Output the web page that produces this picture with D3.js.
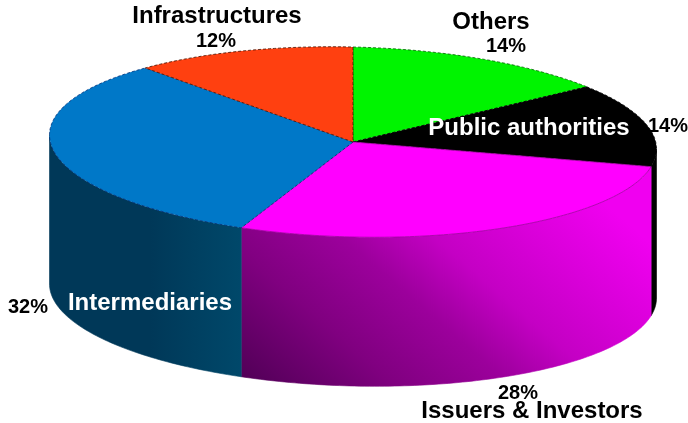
<!DOCTYPE html>
<html>
<head>
<meta charset="utf-8">
<script src="https://cdnjs.cloudflare.com/ajax/libs/d3/7.8.5/d3.min.js"></script>
<style>
html, body { margin: 0; padding: 0; background: #fff; }
svg { display: block; }
text { font-family: "Liberation Sans", Arial, sans-serif; font-weight: bold; }
</style>
</head>
<body>
<svg width="688" height="423"></svg>
<script>
// values clockwise from 12 o'clock
var categories = ['Others', 'Public authorities', 'Issuers & Investors', 'Intermediaries', 'Infrastructures'];
var shares = [14, 14, 28, 32, 12];
var shareLabels = ['14%', '14%', '28%', '32%', '12%'];
var topColors = ['#00f400', '#000000', '#ff00ff', '#0078c8', '#ff4010'];
var edgeColors = ['#006000', '#000000', '#a000a0', '#00307a', '#401000'];
var sideFills = ['#00a000', '#000000', 'url(#sideIssuers)', 'url(#sideIntermediaries)', '#a02000'];

var svg = d3.select('svg');

// shear: the reference ellipse leans a little, right side lower than left
var cx = 353, cy = 142, rx = 303.5, ry = 95, depth = 149, shear = 7;

// unit circle -> flattened ellipse
var xScale = d3.scaleLinear().domain([-1, 1]).range([cx - rx, cx + rx]);
var yScale = d3.scaleLinear().domain([-1, 1]).range([cy - ry, cy + ry]);

var line = d3.line();

function rimPoint(a, dy) {
    return [xScale(Math.sin(a)), yScale(-Math.cos(a)) + shear * Math.sin(a) + dy];
}

function arcPoints(a0, a1, dy) {
    var n = Math.max(2, Math.ceil((a1 - a0) * 60));
    return d3.range(n + 1).map(function(i) {
        return rimPoint(a0 + (a1 - a0) * i / n, dy);
    });
}

var defs = svg.append('defs');

var issuersGrad = defs.append('linearGradient')
    .attr('id', 'sideIssuers')
    .attr('gradientUnits', 'userSpaceOnUse')
    .attr('x1', 250).attr('y1', 400).attr('x2', 500).attr('y2', 112);
[[0, '#4c0052'], [0.28, '#800080'], [0.48, '#9c009c'], [0.64, '#c400c4'], [0.8, '#d800d8'], [1, '#f000f0']].forEach(function(s) {
    issuersGrad.append('stop').attr('offset', s[0]).attr('stop-color', s[1]);
});

var intermediariesGrad = defs.append('linearGradient')
    .attr('id', 'sideIntermediaries')
    .attr('gradientUnits', 'userSpaceOnUse')
    .attr('x1', 150).attr('y1', 0).attr('x2', 240).attr('y2', 0);
intermediariesGrad.append('stop').attr('offset', 0).attr('stop-color', '#003858');
intermediariesGrad.append('stop').attr('offset', 1).attr('stop-color', '#00486a');

var blur = defs.append('filter').attr('id', 'soft');
blur.append('feGaussianBlur').attr('stdDeviation', 0.45);

var pie = d3.pie().sort(null);
var slices = pie(shares);

// side walls, only the part of each slice that faces the viewer
var walls = svg.append('g').attr('class', 'walls');
slices.forEach(function(d, i) {
    var a0 = Math.max(d.startAngle, Math.PI / 2);
    var a1 = Math.min(d.endAngle, Math.PI * 3 / 2);
    if (a1 <= a0) return;
    var pts = arcPoints(a0, a1, 0).concat(arcPoints(a0, a1, depth).reverse());
    walls.append('path')
        .attr('d', line(pts) + 'Z')
        .attr('fill', sideFills[i])
        .attr('stroke', sideFills[i])
        .attr('stroke-width', 0.6);
});

// top of the cake
var tops = svg.append('g').attr('class', 'tops');
slices.forEach(function(d, i) {
    var pts = [[xScale(0), yScale(0)]].concat(arcPoints(d.startAngle, d.endAngle, 0));
    tops.append('path')
        .attr('d', line(pts) + 'Z')
        .attr('fill', topColors[i])
        .attr('stroke', edgeColors[i])
        .attr('stroke-width', 0.8)
        .attr('stroke-dasharray', i === 2 ? null : '3,2');
});

// name labels, then percentage labels
var nameSpots = [[491, 29, '#000'], [529, 135, '#fff'], [532, 418, '#000'], [150, 310, '#fff'], [217, 23, '#000']];
var shareSpots = [[506, 52], [668, 132], [518, 399], [28, 313], [216, 47]];

var texts = svg.append('g').attr('class', 'labels').attr('filter', 'url(#soft)');

texts.selectAll('.name')
    .data(categories)
    .enter().append('text')
    .attr('class', 'name')
    .attr('text-anchor', 'middle')
    .attr('font-size', 24)
    .attr('x', function(d, i) { return nameSpots[i][0]; })
    .attr('y', function(d, i) { return nameSpots[i][1]; })
    .attr('fill', function(d, i) { return nameSpots[i][2]; })
    .text(function(d) { return d; });

texts.selectAll('.share')
    .data(shareLabels)
    .enter().append('text')
    .attr('class', 'share')
    .attr('text-anchor', 'middle')
    .attr('font-size', 20)
    .attr('fill', '#000')
    .attr('x', function(d, i) { return shareSpots[i][0]; })
    .attr('y', function(d, i) { return shareSpots[i][1]; })
    .text(function(d) { return d; });
</script>
</body>
</html>
